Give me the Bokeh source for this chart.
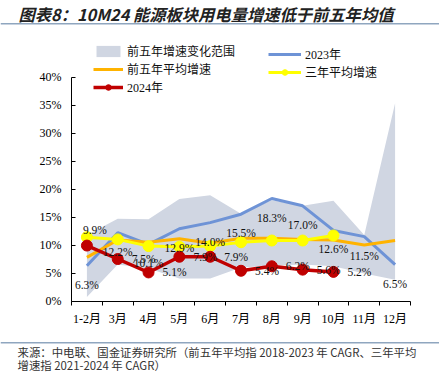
from bokeh.plotting import figure
from bokeh.models import (FixedTicker, PrintfTickFormatter, ColumnDataSource, Legend,
                          LegendItem, Label, BoxAnnotation, Range1d)
from bokeh.embed import file_html
from bokeh.resources import INLINE
from bokeh.core.properties import value

# ---------------- data ----------------
months = ["1-2月", "3月", "4月", "5月", "6月", "7月", "8月", "9月", "10月", "11月", "12月"]
range_low = [0.7, 6.5, 5.8, 4.0, 4.0, 6.0, 6.3, 6.5, 6.2, 4.9, 3.8]
range_high = [11.8, 14.7, 14.6, 18.2, 18.9, 15.6, 18.0, 17.0, 17.9, 11.8, 35.3]
y2023 = [6.3, 12.2, 10.1, 12.9, 14.0, 15.5, 18.3, 17.0, 12.6, 11.5, 6.5]
avg5 = [7.8, 10.9, 10.5, 11.1, 10.3, 11.2, 11.2, 11.0, 10.9, 10.0, 10.8]
avg3 = [11.4, 11.0, 9.8, 9.7, 9.8, 10.5, 10.8, 10.8, 11.7]
y2024 = [9.9, 7.5, 5.1, 7.9, 7.9, 5.4, 6.2, 5.6, 5.2]
y_ticks = [0, 5, 10, 15, 20, 25, 30, 35, 40]

title_text = "图表8：10M24 能源板块用电量增速低于前五年均值"
source_line1 = "来源：中电联、国金证券研究所（前五年平均指 2018-2023 年 CAGR、三年平均"
source_line2 = "增速指 2021-2024 年 CAGR）"

# ---------------- layout / styles ----------------
W, H = 439, 373
PLOT_L, PLOT_R = 71.0, 410.0      # pixel span of the category axis
PLOT_T, PLOT_B = 76.5, 300.5      # pixel span of the value axis (top / bottom)
Y_MAX = 40.0
n = len(months)
px_x = (PLOT_R - PLOT_L) / n
px_y = (PLOT_B - PLOT_T) / Y_MAX
x_start = -0.5 - PLOT_L / px_x
x_end = n - 0.5 + (W - PLOT_R) / px_x
y_start = -(H - PLOT_B) / px_y
y_end = Y_MAX + PLOT_T / px_y

SERIF = "'Liberation Serif', 'Noto Sans CJK SC'"
CJK = "'Noto Sans CJK SC'"
C_BAND = "#D0D6E2"
C_2023 = "#6E93D6"
C_AVG5 = "#FFB300"
C_AVG3 = "#FFFF00"
C_2024 = "#C00000"
C_RULE = "#8FA6BF"

x = list(range(n))
x3 = x[:len(avg3)]
x24 = x[:len(y2024)]

p = figure(width=W, height=H, output_backend="svg", toolbar_location=None,
           x_range=Range1d(x_start, x_end), y_range=Range1d(y_start, y_end),
           min_border=0)
p.outline_line_color = None
p.grid.grid_line_color = None
p.background_fill_color = "white"
p.border_fill_color = "white"

# axes (pinned inside the full-canvas frame)
p.xaxis.fixed_location = 0
p.xaxis.bounds = (-0.5, n - 0.5)
p.xaxis.ticker = FixedTicker(ticks=x, minor_ticks=[i - 0.5 for i in range(n + 1)])
p.xaxis.major_label_overrides = {i: m for i, m in zip(x, months)}
p.xaxis.major_tick_out = 0
p.xaxis.major_tick_in = 0
p.xaxis.minor_tick_out = 4
p.xaxis.minor_tick_in = 0
p.xaxis.minor_tick_line_color = "black"
p.xaxis.axis_line_color = "black"
p.xaxis.major_label_standoff = 7
p.xaxis.major_label_text_font = SERIF
p.xaxis.major_label_text_font_size = "12px"
p.xaxis.major_label_text_color = "black"

p.yaxis.fixed_location = -0.5
p.yaxis.bounds = (0, Y_MAX)
p.yaxis.ticker = FixedTicker(ticks=y_ticks, minor_ticks=[])
p.yaxis.formatter = PrintfTickFormatter(format="%d%%")
p.yaxis.major_tick_in = 4
p.yaxis.major_tick_out = 0
p.yaxis.major_tick_line_color = "black"
p.yaxis.axis_line_color = "black"
p.yaxis.major_label_standoff = 10
p.yaxis.major_label_text_font = SERIF
p.yaxis.major_label_text_font_size = "12px"
p.yaxis.major_label_text_color = "black"

# glyphs
band = p.varea(x=x, y1=range_low, y2=range_high, fill_color=C_BAND, fill_alpha=1)
l23 = p.line(x=x, y=y2023, line_color=C_2023, line_width=3)
l5 = p.line(x=x, y=avg5, line_color=C_AVG5, line_width=3)
l3 = p.line(x=x3, y=avg3, line_color=C_AVG3, line_width=3)
s3 = p.scatter(x=x3, y=avg3, size=11, fill_color=C_AVG3, line_color=C_AVG3)
l24 = p.line(x=x24, y=y2024, line_color=C_2024, line_width=3.5)
s24 = p.scatter(x=x24, y=y2024, size=11, fill_color=C_2024, line_color=C_2024)

# data labels
src23 = ColumnDataSource(dict(x=x, y=y2023, t=[f"{v:.1f}%" for v in y2023]))
p.text(x="x", y="y", text="t", source=src23, text_font=value(SERIF), text_font_size="11.5px",
       text_align="center", text_baseline="middle", y_offset=19, text_color="#111111")

dx24 = [8] + [26] * (len(y2024) - 1)
dy24 = [-16] + [0] * (len(y2024) - 1)
src24 = ColumnDataSource(dict(x=x24, y=y2024, t=[f"{v:.1f}%" for v in y2024], dx=dx24, dy=dy24))
p.text(x="x", y="y", text="t", source=src24, text_font=value(SERIF), text_font_size="11.5px",
       text_align="center", text_baseline="middle", x_offset="dx", y_offset="dy", text_color="#111111")

# legends
def style_legend(lg, gw):
    lg.background_fill_alpha = 0
    lg.border_line_alpha = 0
    lg.padding = 0
    lg.margin = 0
    lg.spacing = 0
    lg.glyph_width = gw
    lg.glyph_height = 14
    lg.label_height = 14
    lg.label_standoff = 4
    lg.label_text_font = SERIF
    lg.label_text_font_size = "12px"
    lg.label_text_color = "#111111"

leg1 = Legend(items=[LegendItem(label="前五年增速变化范围", renderers=[band]),
                     LegendItem(label="前五年平均增速", renderers=[l5]),
                     LegendItem(label="2024年", renderers=[l24, s24])],
              location=(93, H - 96))
leg2 = Legend(items=[LegendItem(label="2023年", renderers=[l23]),
                     LegendItem(label="三年平均增速", renderers=[l3, s3])],
              location=(268, H - 81))
style_legend(leg1, 30)
style_legend(leg2, 33)
p.add_layout(leg1, "center")
p.add_layout(leg2, "center")

# title, rules and source
p.add_layout(Label(x=18, y=H - 13, x_units="screen", y_units="screen", text=title_text,
                   text_font=CJK, text_font_size="16.3px", text_font_style="bold italic",
                   text_baseline="middle", text_color="#222222"))
p.add_layout(BoxAnnotation(left=0, right=W, bottom=H - 24, top=H - 22.5,
                           left_units="screen", right_units="screen",
                           bottom_units="screen", top_units="screen",
                           fill_color=C_RULE, fill_alpha=1, line_color=None))
p.add_layout(BoxAnnotation(left=0, right=W, bottom=H - 343, top=H - 341.5,
                           left_units="screen", right_units="screen",
                           bottom_units="screen", top_units="screen",
                           fill_color=C_RULE, fill_alpha=1, line_color=None))
p.add_layout(Label(x=17, y=H - 351, x_units="screen", y_units="screen", text=source_line1,
                   text_font=CJK, text_font_size="11.4px", text_baseline="middle", text_color="#333333"))
p.add_layout(Label(x=17, y=H - 364, x_units="screen", y_units="screen", text=source_line2,
                   text_font=CJK, text_font_size="11.4px", text_baseline="middle", text_color="#333333"))

open("out.html", "w").write(file_html(p, INLINE))
